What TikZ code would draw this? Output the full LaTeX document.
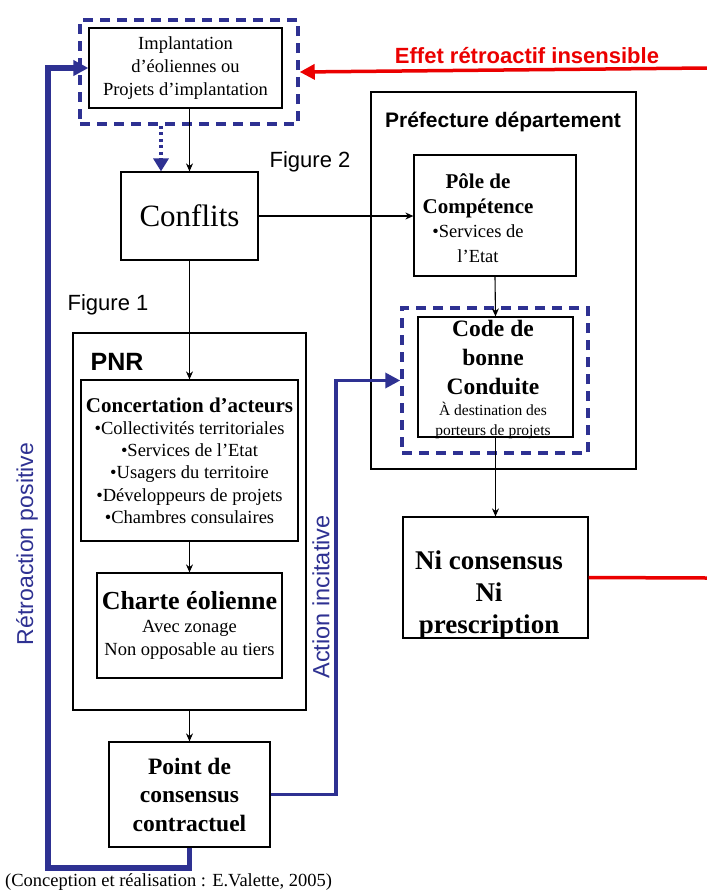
\documentclass[tikz,border=0pt]{standalone}
\usepackage{fontspec}
\setmainfont{Liberation Serif}
\setsansfont{Liberation Sans}
\usetikzlibrary{arrows.meta}
\definecolor{dblue}{RGB}{46,49,146}
\definecolor{rred}{RGB}{235,0,0}
\tikzset{
  box/.style={draw=black, line width=1.2pt, fill=white, inner sep=0pt},
  dbox/.style={draw=dblue, line width=3.5pt, dash pattern=on 10pt off 7pt, inner sep=0pt},
  txt/.style={inner sep=0pt, align=center},
  blk/.style={draw=black, line width=1.1pt, -{Stealth[length=8pt,width=7pt]}},
  bluearr/.style={draw=dblue, -{Triangle[length=15pt,width=15pt]}},
  redarr/.style={draw=rred, line width=3.5pt, -{Triangle[length=15pt,width=15pt]}},
  lbl/.style={inner sep=0pt, font=\sffamily}
}
\begin{document}
\begin{tikzpicture}[x=1pt,y=-1pt]
\useasboundingbox (0,0) rectangle (707,892);
\fill[white] (0,0) rectangle (707,892);

% dashed frames
\node[dbox, minimum width=218pt, minimum height=104pt] (impldash) at (189,72) {};
\node[box, minimum width=193pt, minimum height=80pt, txt, font=\fontsize{18.5}{23}\selectfont] (impl) at (185.5,68)
  {Implantation\\d’éoliennes ou\\Projets d’implantation};

\node[box, minimum width=137pt, minimum height=88pt, font=\fontsize{31}{36}\selectfont] (conf) at (189.5,216) {Conflits};

\node[lbl, font=\sffamily\fontsize{22}{26}\selectfont] (fig2) at (310,162) {Figure 2};
\node[lbl, font=\sffamily\fontsize{22}{26}\selectfont] (fig1) at (108,305) {Figure 1};

% Prefecture
\node[box, minimum width=265pt, minimum height=377pt] (pref) at (503.5,280.5) {};
\node[lbl, font=\sffamily\bfseries\fontsize{21}{25}\selectfont] (preft) at (503,122) {Préfecture département};
\node[box, minimum width=162pt, minimum height=121pt] (pole) at (495,215.5) {};
\node[txt, font=\fontsize{18.5}{24.5}\selectfont] (polet) at (478,218)
  {{\bfseries\fontsize{21}{25}\selectfont Pôle de}\\{\bfseries\fontsize{21}{25}\selectfont Compétence}\\•Services de\\l’Etat};
\node[dbox, minimum width=186pt, minimum height=145pt] (codedash) at (495,380.5) {};
\node[box, minimum width=155pt, minimum height=120pt] (code) at (495.5,377) {};
\node[txt, font=\fontsize{15.5}{20}\selectfont] (codet) at (493,379)
  {{\bfseries\fontsize{23.5}{29}\selectfont Code de}\\[9pt]{\bfseries\fontsize{23.5}{29}\selectfont bonne}\\[9pt]{\bfseries\fontsize{23.5}{29}\selectfont Conduite}\\[1pt]À destination des\\porteurs de projets};

\node[box, minimum width=185pt, minimum height=121pt] (ni) at (495.5,577.5) {};
\node[txt, font=\bfseries\fontsize{27}{32}\selectfont] (nit) at (489,595) {Ni consensus\\Ni\\prescription};

% PNR
\node[box, minimum width=233pt, minimum height=377pt] (pnr) at (189.5,521.5) {};
\node[lbl, font=\sffamily\bfseries\fontsize{25}{30}\selectfont] (pnrt) at (117,362) {PNR};
\node[box, minimum width=217pt, minimum height=161pt, txt, font=\fontsize{18.5}{22.2}\selectfont] (conc) at (189.5,460.5)
  {{\bfseries\fontsize{21}{22}\selectfont Concertation d’acteurs}\\•Collectivités territoriales\\•Services de l’Etat\\•Usagers du territoire\\•Développeurs de projets\\•Chambres consulaires};
\node[box, minimum width=185pt, minimum height=105pt, txt, font=\fontsize{18.5}{23}\selectfont] (charte) at (189.5,625.5)
  {{\bfseries\fontsize{26}{28}\selectfont Charte éolienne}\\Avec zonage\\Non opposable au tiers};
\node[box, minimum width=161pt, minimum height=105pt, txt, font=\bfseries\fontsize{23.5}{28.5}\selectfont] (point) at (189.5,794.5)
  {Point de\\consensus\\contractuel};

% labels
\node[lbl, text=rred, font=\sffamily\bfseries\fontsize{22}{26}\selectfont] (effet) at (527,56) {Effet rétroactif insensible};
\node[lbl, text=dblue, rotate=90, font=\sffamily\fontsize{23}{27}\selectfont] (retro) at (27,544) {Rétroaction positive};
\node[lbl, text=dblue, rotate=90, font=\sffamily\fontsize{23.5}{27}\selectfont] (actt) at (321,597) {Action incitative};
\node[anchor=base west, inner sep=0pt, font=\fontsize{18.5}{22}\selectfont] (cap) at (5,886) {(Conception et réalisation : E.Valette, 2005)};

% coordinates
\coordinate (dotx) at (161,0);
\coordinate (redin) at (707,68);
\coordinate (redout) at (707,578);
\coordinate (rb) at (48,868);
\coordinate (ra) at (336,0);

% black connectors
\draw[blk] (impl.south -| conf.north) -- (conf.north);
\draw[blk] (conf.east) -- (conf.east -| pole.west);
\draw[blk] (conf.south) -- (conc.north);
\draw[blk] (conc.south) -- (charte.north);
\draw[blk] (pnr.south) -- (point.north);
\draw[blk] (pole.south) -- (code.north);
\draw[blk] (code.south) -- (ni.north);

% dotted blue
\draw[dblue, line width=3.5pt, dash pattern=on 3pt off 3.5pt, -{Triangle[length=13pt,width=15pt]}] (impldash.south -| dotx) -- (conf.north -| dotx);

% red
\draw[redarr] (redin) -- (impldash.east);
\draw[draw=rred, line width=3.5pt] (ni.east) -- (redout);

% blue feedback
\draw[bluearr, line width=5.5pt] (point.south) |- (rb) |- (impl.west);
\draw[bluearr, line width=3.5pt] (point.east) -| (ra |- codedash.west) -- (codedash.west);
\end{tikzpicture}
\end{document}
